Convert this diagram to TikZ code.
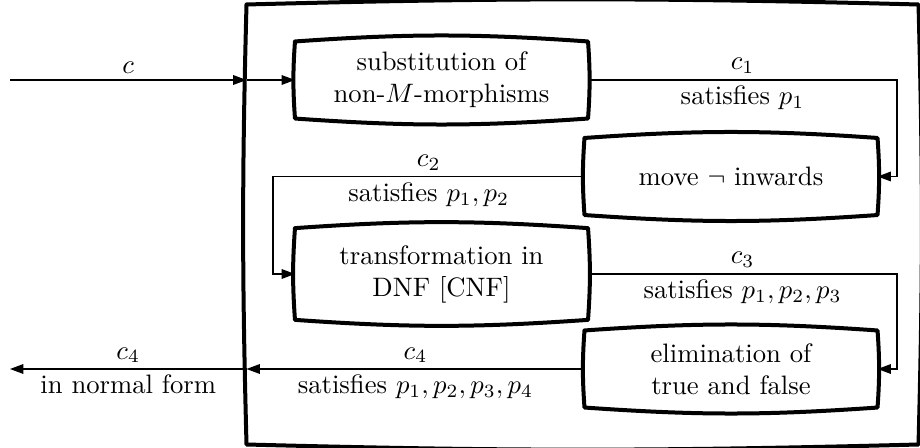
\documentclass[tikz,border=0pt]{standalone}
\usetikzlibrary{arrows.meta}
\begin{document}
\begin{tikzpicture}[x=0.375pt,y=-0.375pt,
  stage/.style={minimum width=109.5pt,minimum height=28.5pt,align=center,inner sep=2pt},
  rim/.style={line width=1.5pt,line join=round,line cap=round},
  flow/.style={line width=0.5pt,-{Triangle[length=5pt,width=3.6pt]},every node/.style={inner sep=2pt}}]
\useasboundingbox (0,0) rectangle (920,448);
\node[minimum width=251.6pt,minimum height=164.6pt] (frame) at (582.5,224.5) {};
\node[stage] (sub) at (441.5,80) {substitution of\\non-$M$-morphisms};
\node[stage] (mov) at (731,176.5) {move $\neg$ inwards};
\node[stage,minimum height=34pt] (dnf) at (441.5,274) {transformation in\\DNF [CNF]};
\node[stage] (eli) at (731,369) {elimination of\\true and false};
% bulging outlines
\foreach \n/\b in {frame/1.5,sub/4,mov/4,dnf/4,eli/4}
  \draw[rim] (\n.north west) to[bend left=\b] (\n.north east) to[bend left=\b] (\n.south east)
    to[bend left=\b] (\n.south west) to[bend left=\b] (\n.north west);
\coordinate (in) at (10,80);
\coordinate (out) at (10,369);
\coordinate (rx) at (897,0);
\coordinate (lx) at (273,0);
\draw[flow] (in) -- node[above]{$c$} (in -| frame.west);
\draw[flow] (in -| frame.west) -- (sub);
\draw[flow] (sub) -- node[above]{$c_1$} node[below]{satisfies $p_1$} (sub -| rx) |- (mov);
\draw[flow] (mov) -- node[above]{$c_2$} node[below]{satisfies $p_1,p_2$} (mov -| lx) |- (dnf);
\draw[flow] (dnf) -- node[above]{$c_3$} node[below]{satisfies $p_1,p_2,p_3$} (dnf -| rx) |- (eli);
\draw[flow] (eli) -- node[above]{$c_4$} node[below]{satisfies $p_1,p_2,p_3,p_4$} (eli -| frame.west);
\draw[flow] (eli -| frame.west) -- node[above]{$c_4$} node[below]{in normal form} (out);
\end{tikzpicture}
\end{document}
